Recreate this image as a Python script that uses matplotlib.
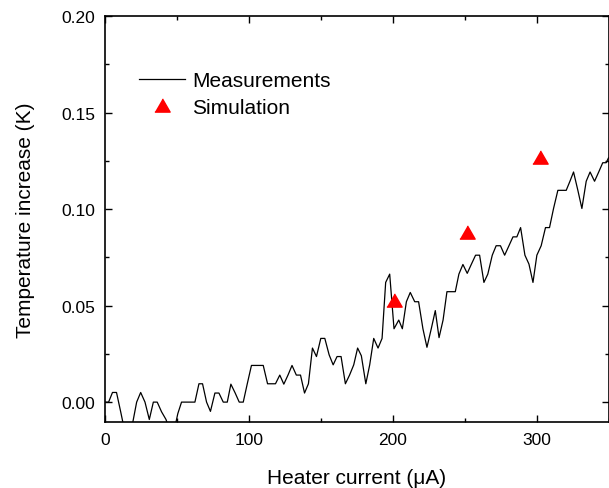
import numpy as np
import matplotlib
matplotlib.use("Agg")
import matplotlib.pyplot as plt
from matplotlib.ticker import MultipleLocator, FormatStrFormatter

plt.rcParams['font.family'] = ['Liberation Sans', 'DejaVu Sans']

current_uA = [0.0, 2.5, 5.2, 8.0, 10.9, 13.7, 16.5, 19.3, 22.0, 24.8, 27.8, 30.8, 33.6, 36.3,
              39.3, 42.4, 45.2, 48.0, 50.6, 53.2, 56.0, 58.8, 62.5, 65.3, 67.8, 70.6, 73.3,
              76.4, 79.2, 82.2, 85.0, 87.5, 90.5, 93.3, 96.1, 98.9, 101.8, 104.7, 107.4,
              110.0, 113.0, 115.7, 118.5, 121.5, 124.3, 127.2, 130.0, 133.0, 135.9, 138.7,
              141.4, 144.2, 147.0, 150.0, 152.8, 155.8, 158.6, 161.3, 164.1, 167.1, 170.0,
              172.9, 175.6, 178.2, 181.3, 184.0, 186.8, 189.8, 192.6, 195.1, 197.9, 200.9,
              204.2, 206.7, 209.5, 212.2, 215.3, 218.0, 221.0, 223.8, 226.8, 229.6, 232.2,
              235.0, 237.7, 240.6, 243.5, 246.0, 248.8, 251.8, 254.6, 257.6, 260.4, 263.4,
              266.1, 269.2, 271.9, 274.9, 277.8, 280.8, 283.6, 286.3, 288.9, 291.9, 294.7,
              297.5, 300.2, 303.2, 306.2, 309.0, 311.8, 314.8, 317.7, 320.6, 323.2, 325.7,
              328.7, 331.5, 334.5, 337.2, 340.3, 343.2, 346.0, 348.4, 350.0]
temp_rise_K = [0.0, 0.0, 0.005, 0.005, -0.005, -0.015, -0.015, -0.0105, 0.0, 0.005, 0.0, -0.009,
               0.0, 0.0, -0.005, -0.009, -0.015, -0.015, -0.006, 0.0, 0.0, 0.0, 0.0, 0.0095,
               0.0095, 0.0, -0.0048, 0.0047, 0.0047, 0.0, 0.0, 0.0093, 0.0047, 0.0, 0.0,
               0.0095, 0.019, 0.019, 0.019, 0.019, 0.0095, 0.0095, 0.0095, 0.014, 0.0093,
               0.014, 0.019, 0.014, 0.014, 0.0047, 0.0095, 0.028, 0.0236, 0.033, 0.033,
               0.0245, 0.0193, 0.0236, 0.0236, 0.0095, 0.014, 0.0193, 0.028, 0.024, 0.0095,
               0.0193, 0.033, 0.028, 0.033, 0.062, 0.0663, 0.038, 0.0425, 0.038, 0.052,
               0.0568, 0.052, 0.052, 0.038, 0.0284, 0.038, 0.0474, 0.0334, 0.0425, 0.0572,
               0.0572, 0.0572, 0.0663, 0.0713, 0.0667, 0.0713, 0.0761, 0.0761, 0.062, 0.0663,
               0.0761, 0.081, 0.081, 0.0761, 0.081, 0.0856, 0.0856, 0.0904, 0.0761, 0.0715,
               0.062, 0.0761, 0.081, 0.0904, 0.0904, 0.1003, 0.1097, 0.1097, 0.1097, 0.1144,
               0.1192, 0.1097, 0.1003, 0.1144, 0.1192, 0.1144, 0.1192, 0.124, 0.124, 0.1265]

# simulated points
sim_current_uA = [201.0, 251.5, 302.5]
sim_temp_rise_K = [0.053, 0.088, 0.127]

fig = plt.figure(figsize=(6.09, 4.89), dpi=100)
ax = fig.add_axes([105 / 609, 1 - 423 / 489, 503.5 / 609, 406 / 489])

tri = [(-1, -0.866), (1, -0.866), (0, 0.866)]   # equilateral triangle marker

ax.plot(current_uA, temp_rise_K, color='black', lw=0.9, label='Measurements')
ax.plot(sim_current_uA, sim_temp_rise_K, ls='none', marker=tri, ms=11,
        color='red', mec='red', label='Simulation')

ax.set_xlim(0, 350)
ax.set_ylim(-0.0103, 0.2)
ax.xaxis.set_major_locator(MultipleLocator(100))
ax.xaxis.set_minor_locator(MultipleLocator(50))
ax.yaxis.set_major_locator(MultipleLocator(0.05))
ax.yaxis.set_minor_locator(MultipleLocator(0.025))
ax.yaxis.set_major_formatter(FormatStrFormatter('%.2f'))

ax.tick_params(which='both', direction='in', top=True, right=True, width=1.0,
               labelsize=12.5, pad=7)
ax.tick_params(which='major', length=5)
ax.tick_params(which='minor', length=3)
for sp in ax.spines.values():
    sp.set_linewidth(1.2)

ax.set_xlabel('Heater current (μA)', fontsize=15, labelpad=15)
ax.set_ylabel('Temperature increase (K)', fontsize=15, labelpad=19)

ax.legend(loc='upper left', bbox_to_anchor=(0.0675, 0.864), frameon=False,
          fontsize=15, borderpad=0, borderaxespad=0, handlelength=2.2,
          handletextpad=0.35, labelspacing=0.36)

fig.savefig('out.png', dpi=100)
